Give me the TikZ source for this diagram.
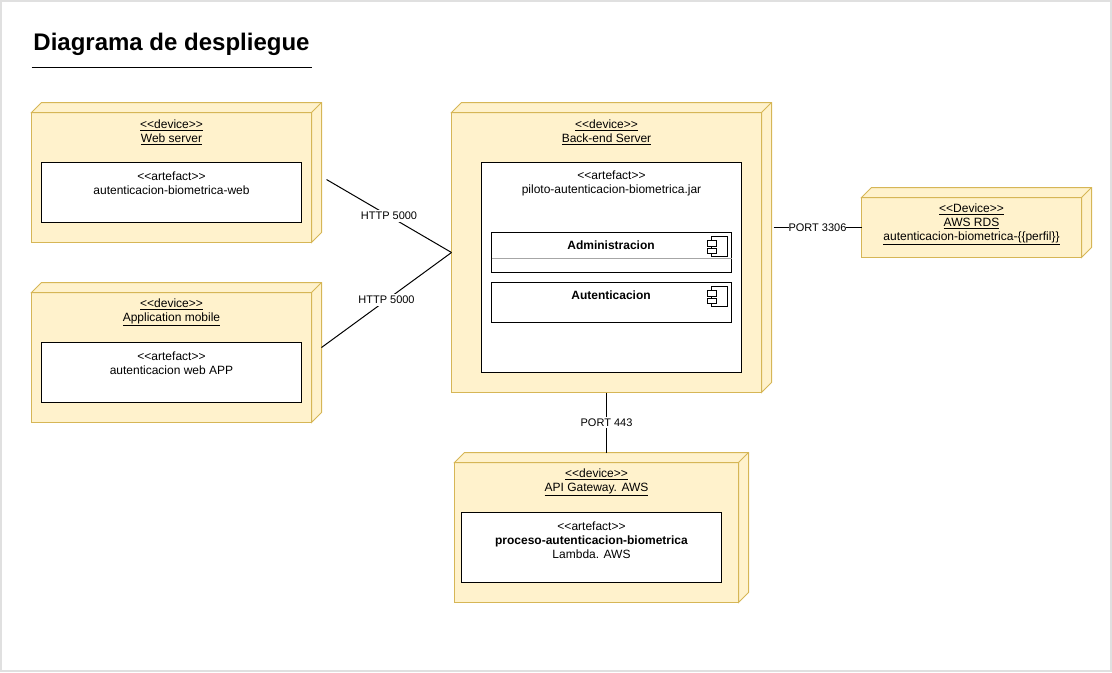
\documentclass[tikz,border=0pt]{standalone}
\usepackage{fontspec}
\setmainfont{Liberation Sans}
\usetikzlibrary{calc}
\definecolor{devfill}{HTML}{FFF2CC}
\definecolor{devline}{HTML}{D6B656}
\begin{document}
\begin{tikzpicture}[x=0.75pt, y=-0.75pt, line width=0.75pt,
  font=\fontsize{9}{10.5}\selectfont,
  device/.style={draw=devline, fill=devfill, anchor=north west, inner sep=0pt, outer sep=0pt},
  artefact/.style={draw=black, fill=white, anchor=north west, inner sep=0pt, outer sep=0pt},
  txt/.style={align=center, inner sep=0pt},
  lb/.style={font=\fontsize{8.25}{10}\selectfont, inner sep=1.4pt, fill=white},
  a/.style={draw=black}]
  \useasboundingbox (0,0) rectangle (1112,672);
  \draw[draw=black!12, line width=1.5pt] (1,1) rectangle (1111,671);
  \begin{scope}[shift={(0.5,0.5)}]
  % ---- Title and the rule under it
  \node[font=\fontsize{18}{20}\selectfont\bfseries, inner sep=0pt] (title) at (171,44) {Diagrama de despliegue};
  \coordinate (ruleL) at (31,67);
  \coordinate (ruleR) at (311,67);
  \draw[a] (ruleL) -- (ruleR);
  % ---- Devices, front faces
  \node[device, minimum width=210pt,   minimum height=97.5pt]  (web)  at (31,112)  {};
  \node[device, minimum width=210pt,   minimum height=97.5pt]  (app)  at (31,292)  {};
  \node[device, minimum width=232.5pt, minimum height=210pt]   (back) at (451,112) {};
  \node[device, minimum width=165pt,   minimum height=45pt]    (rds)  at (861,197) {};
  \node[device, minimum width=213pt,   minimum height=105pt]   (api)  at (454,462) {};
  % The depth of each device: top and side faces
  \foreach \n in {web,app,back,rds,api} {
    \draw[draw=devline, fill=devfill] (\n.north west) -- ++(10,-10)
      -- ($(\n.north east)+(10,-10)$) -- ($(\n.south east)+(10,-10)$)
      -- (\n.south east) -- (\n.north east) -- cycle;
    \draw[draw=devline] (\n.north east) -- ++(10,-10);
  }
  \node[txt] (webtxt)  at (171,132)   {\underline{<{}<device>{}>}\\\underline{Web server}};
  \node[txt] (apptxt)  at (171,312)   {\underline{<{}<device>{}>}\\\underline{Application mobile}};
  \node[txt] (backtxt) at (606,132)   {\underline{<{}<device>{}>}\\\underline{Back-end Server}};
  \node[txt] (rdstxt)  at (971,224)   {\underline{<{}<Device>{}>}\\\underline{AWS RDS}\\\underline{autenticacion-biometrica-\{\{perfil\}\}}};
  \node[txt] (apitxt)  at (596,482)   {\underline{<{}<device>{}>}\\\underline{API Gateway. AWS}};
  % ---- Artefacts
  \node[artefact, minimum width=195pt, minimum height=45pt]    (webart)  at (41,162)  {};
  \node[artefact, minimum width=195pt, minimum height=45pt]    (appart)  at (41,342)  {};
  \node[artefact, minimum width=195pt, minimum height=157.5pt] (backart) at (481,162) {};
  \node[artefact, minimum width=195pt, minimum height=52.5pt]  (apiart)  at (461,512) {};
  \node[txt] (webarttxt)  at (171,182.5)   {<{}<artefact>{}>\\autenticacion-biometrica-web};
  \node[txt] (apparttxt)  at (171,362.5)   {<{}<artefact>{}>\\autenticacion web APP};
  \node[txt] (backarttxt) at (611,182.5)   {<{}<artefact>{}>\\piloto-autenticacion-biometrica.jar};
  \node[txt] (apiarttxt)  at (591,539.5)   {<{}<artefact>{}>\\\textbf{proceso-autenticacion-biometrica}\\Lambda. AWS};
  % ---- Components inside the jar
  \node[artefact, minimum width=180pt, minimum height=30pt] (admin) at (491,232) {};
  \node[artefact, minimum width=180pt, minimum height=30pt] (auten) at (491,282) {};
  \node[txt, font=\fontsize{9}{10.5}\selectfont\bfseries] (admintxt) at (610.5,244.5) {Administracion};
  \node[txt, font=\fontsize{9}{10.5}\selectfont\bfseries] (autentxt) at (610.5,294.5) {Autenticacion};
  \draw[draw=black!35] ($(admin.north west)+(0,26)$) -- ($(admin.north east)+(0,26)$);
  \foreach \n in {admin,auten} {
    \begin{scope}[shift={(\n.north east)}]
      \draw[a, fill=white] (-20,4) rectangle (-4,24);
      \draw[a, fill=white] (-24,8) rectangle (-15,13.5);
      \draw[a, fill=white] (-24,16) rectangle (-15,21);
    \end{scope}
  }
  % ---- Connectors
  \coordinate (webport) at (326,179);
  \coordinate (appport) at (321,347);
  \coordinate (rdsport) at (773,227);
  \coordinate (apiport) at (606,452);
  \draw[a] (webport) -- node[lb] (webhttp) {HTTP 5000} (back.west);
  \draw[a] (appport) -- node[lb] (apphttp) {HTTP 5000} (back.west);
  \draw[a] (rdsport) -- node[lb, inner sep=0pt] (rdsconn) {PORT 3306} (rds.west);
  \draw[a] (back.south) -- node[lb] (apiconn) {PORT 443} (apiport);
  \end{scope}
\end{tikzpicture}
\end{document}
